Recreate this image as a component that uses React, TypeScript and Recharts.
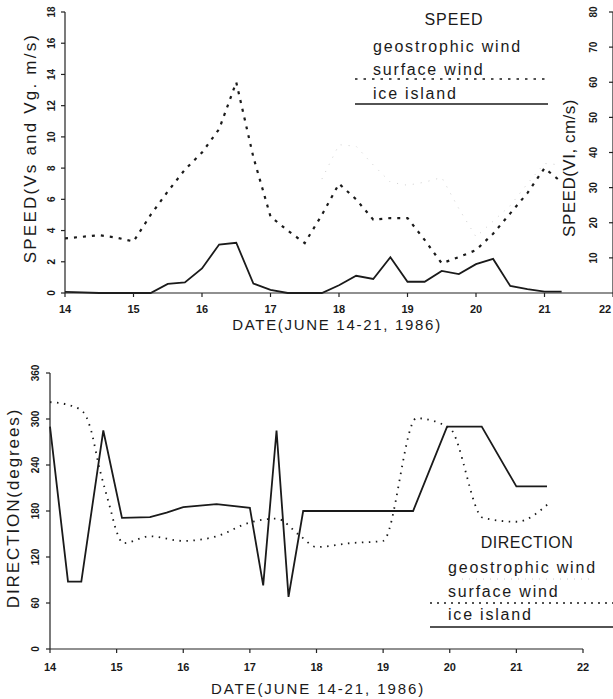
import { LineChart, Line, XAxis, YAxis } from 'recharts'

// speed panel, 6-hourly samples
const speedDays = [14, 14.25, 14.5, 14.75, 15, 15.25, 15.5, 15.75, 16, 16.25, 16.5, 16.75, 17, 17.25, 17.5, 17.75, 18, 18.25, 18.5, 18.75, 19, 19.25, 19.5, 19.75, 20, 20.25, 20.5, 20.75, 21, 21.25]
// m/s
const surfaceSpeed = [3.5, 3.6, 3.7, 3.55, 3.3, 5.0, 6.5, 7.9, 9.0, 10.5, 13.5, 8.7, 4.9, 4.0, 3.2, 5.0, 7.0, 6.0, 4.7, 4.8, 4.8, 3.4, 1.9, 2.3, 2.75, 3.8, 5.1, 6.4, 8.0, 7.1]
const geostrophicSpeed = [null, null, null, null, null, null, null, null, null, null, null, null, null, null, null, 7.3, 9.5, 9.4, 8.2, 7.1, 6.9, 7.1, 7.4, 5.4, 3.6, 4.6, 5.6, 7.0, 8.3, 8.2]
// cm/s (right axis)
const iceSpeed = [0.3, 0.2, 0, 0, 0, 0, 2.6, 3.0, 7.0, 13.8, 14.3, 2.7, 0.9, 0, 0, 0, 2.2, 4.9, 4.0, 10.2, 3.2, 3.2, 6.3, 5.4, 8.2, 9.7, 2.0, 1.1, 0.4, 0.4]

// direction panel, degrees
const iceDirDays = [14, 14.27, 14.47, 14.8, 15.08, 15.5, 15.75, 16, 16.5, 17, 17.2, 17.4, 17.58, 17.8, 19.45, 19.96, 20.48, 21, 21.46]
const iceDir = [290, 88, 88, 285, 171, 172, 178, 185, 189, 184, 83, 285, 68, 180, 180, 290, 290, 212, 212]
const surfaceDirDays = [14, 14.25, 14.5, 14.6, 14.75, 14.9, 15, 15.1, 15.5, 16, 16.5, 17, 17.4, 17.75, 18, 18.5, 19, 19.5, 20, 20.5, 21, 21.5]
const surfaceDir = [322, 319, 309, 290, 233, 185, 153, 138, 147, 141, 147, 165, 170, 148, 133, 138, 141, 301, 288, 171, 166, 191]

const dayTicks = [14, 15, 16, 17, 18, 19, 20, 21, 22]
const speedTicks = [0, 2, 4, 6, 8, 10, 12, 14, 16, 18]
const cmTicks = [10, 20, 30, 40, 50, 60, 70, 80]
const dirTicks = [0, 60, 120, 180, 240, 300, 360]

const speedData = speedDays.map((day, i) => ({
  day,
  surface: surfaceSpeed[i],
  geostrophic: geostrophicSpeed[i],
  ice: iceSpeed[i],
}))
const iceDirData = iceDirDays.map((day, i) => ({ day, dir: iceDir[i] }))
const surfaceDirData = surfaceDirDays.map((day, i) => ({ day, dir: surfaceDir[i] }))

const FONT = '"Liberation Sans", Arial, sans-serif'
const INK = '#1a1a1a'
const axisLine = { stroke: '#222', strokeWidth: 1.2 }

const DayTick = ({ x, y, payload }: any) => (
  <text x={x} y={y} dy="0.71em" textAnchor="middle" fontSize={11} fontWeight={700} fill={INK} fontFamily={FONT}>
    {payload.value}
  </text>
)

// y tick labels turned to read bottom to top
const RotTick = ({ x, y, payload, shift = 0 }: any) => (
  <g transform={`translate(${x + shift},${y})`}>
    <text transform="rotate(-90)" x={0} y={0} textAnchor="middle" fontSize={10} fontWeight={700} fill={INK} fontFamily={FONT}>
      {payload.value}
    </text>
  </g>
)

export default function App() {
  return (
    <div style={{ position: 'absolute', left: 0, top: 0, width: 613, height: 699, background: '#fff', fontFamily: FONT }}>
      <div style={{ position: 'absolute', left: 0, top: 0 }}>
        <LineChart width={613} height={330} data={speedData} margin={{ top: 12, right: 0, bottom: 7, left: 0 }}>
          <XAxis dataKey="day" type="number" domain={[14, 22]} ticks={dayTicks} height={30}
            axisLine={axisLine} tickLine={axisLine} tickSize={4} tickMargin={8} tick={<DayTick />} />
          <YAxis yAxisId="left" domain={[0, 18]} ticks={speedTicks} width={65}
            axisLine={axisLine} tickLine={axisLine} tickSize={4} tickMargin={2} tick={<RotTick shift={-4} />} />
          <YAxis yAxisId="right" orientation="right" mirror domain={[0, 80]} ticks={cmTicks} width={9}
            axisLine={axisLine} tickLine={axisLine} tickSize={4} tickMargin={2} tick={<RotTick shift={-10} />} />
          <Line yAxisId="left" dataKey="geostrophic" type="linear" stroke="#cfcfcf" strokeWidth={1}
            strokeDasharray="1 7" dot={false} isAnimationActive={false} />
          <Line yAxisId="left" dataKey="surface" type="linear" stroke={INK} strokeWidth={2.2}
            strokeDasharray="3 6" dot={false} isAnimationActive={false} />
          <Line yAxisId="right" dataKey="ice" type="linear" stroke={INK} strokeWidth={1.8}
            dot={false} isAnimationActive={false} />
        </LineChart>
      </div>

      <div style={{ position: 'absolute', left: 0, top: 340 }}>
        <LineChart width={613} height={359} margin={{ top: 33, right: 30, bottom: 20, left: 0 }}>
          <XAxis dataKey="day" type="number" domain={[14, 22]} ticks={dayTicks} height={30}
            axisLine={axisLine} tickLine={axisLine} tickSize={4} tickMargin={10} tick={<DayTick />} />
          <YAxis domain={[0, 360]} ticks={dirTicks} width={50}
            axisLine={axisLine} tickLine={axisLine} tickSize={4} tickMargin={2} tick={<RotTick shift={-5} />} />
          <Line data={surfaceDirData} dataKey="dir" type="monotone" stroke={INK} strokeWidth={1.8}
            strokeDasharray="1.5 5.5" dot={false} isAnimationActive={false} />
          <Line data={iceDirData} dataKey="dir" type="linear" stroke={INK} strokeWidth={1.8}
            dot={false} isAnimationActive={false} />
        </LineChart>
      </div>

      {/* axis titles and legends */}
      <svg width={613} height={699} style={{ position: 'absolute', left: 0, top: 0, pointerEvents: 'none' }} fontFamily={FONT} fill={INK}>
        <text transform="translate(36,148) rotate(-90)" textAnchor="middle" fontSize={17} letterSpacing={2.2}>SPEED(Vs and Vg. m/s)</text>
        <text transform="translate(575,168) rotate(-90)" textAnchor="middle" fontSize={17} letterSpacing={0.5}>SPEED(VI, cm/s)</text>
        <text x={337} y={330} textAnchor="middle" fontSize={15} letterSpacing={1.7}>DATE(JUNE 14-21, 1986)</text>

        <text x={454} y={25} textAnchor="middle" fontSize={16} letterSpacing={1}>SPEED</text>
        <text x={373} y={52} fontSize={16} letterSpacing={1.8}>geostrophic wind</text>
        <text x={373} y={75} fontSize={16} letterSpacing={1.8}>surface wind</text>
        <line x1={355} x2={548} y1={79} y2={79} stroke={INK} strokeWidth={1.6} strokeDasharray="2.5 6" />
        <text x={373} y={99} fontSize={16} letterSpacing={1.8}>ice island</text>
        <line x1={355} x2={548} y1={104} y2={104} stroke={INK} strokeWidth={1.6} />

        <text transform="translate(19,508) rotate(-90)" textAnchor="middle" fontSize={17} letterSpacing={1.9}>DIRECTION(degrees)</text>
        <text x={318} y={694} textAnchor="middle" fontSize={15} letterSpacing={1.9}>DATE(JUNE 14-21, 1986)</text>

        <text x={527} y={548} textAnchor="middle" fontSize={16} letterSpacing={0.5}>DIRECTION</text>
        <text x={448} y={573} fontSize={16} letterSpacing={1.8}>geostrophic wind</text>
        <line x1={462} x2={590} y1={579} y2={579} stroke="#c8c8c8" strokeWidth={1} strokeDasharray="1 6" />
        <text x={448} y={597} fontSize={16} letterSpacing={1.8}>surface wind</text>
        <line x1={430} x2={613} y1={603} y2={603} stroke={INK} strokeWidth={1.4} strokeDasharray="2 5" />
        <text x={448} y={620} fontSize={16} letterSpacing={1.8}>ice island</text>
        <line x1={430} x2={613} y1={627} y2={627} stroke={INK} strokeWidth={1.6} />
      </svg>
    </div>
  )
}
